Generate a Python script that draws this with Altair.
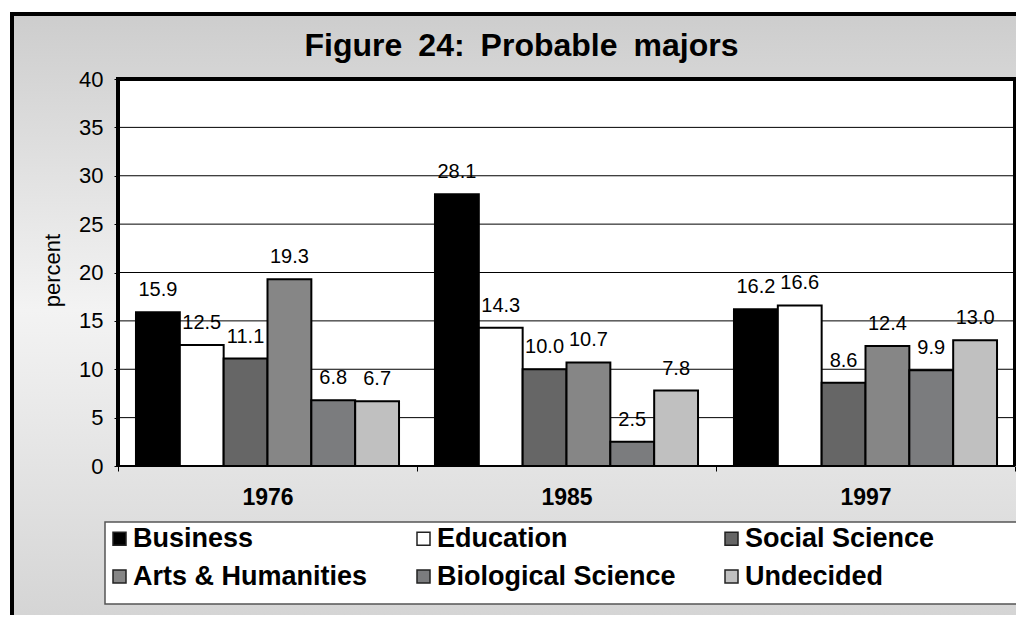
import altair as alt
import pandas as pd

majors = ["Business", "Education", "Social Science", "Arts & Humanities",
          "Biological Science", "Undecided"]
years = ["1976", "1985", "1997"]
v1976 = [15.9, 12.5, 11.1, 19.3, 6.8, 6.7]
v1985 = [28.1, 14.3, 10.0, 10.7, 2.5, 7.8]
v1997 = [16.2, 16.6, 8.6, 12.4, 9.9, 13.0]
colors = ["#000000", "#ffffff", "#666666", "#868686", "#7b7c7e", "#c0c0c0"]
y_ticks = [0, 5, 10, 15, 20, 25, 30, 35, 40]
grid_values = [5, 10, 15, 20, 25, 30, 35]

# legend lays entries out column by column (2 rows x 3 columns)
legend_order = ["Business", "Arts & Humanities", "Education",
                "Biological Science", "Social Science", "Undecided"]
color_of = dict(zip(majors, colors))
legend_colors = [color_of[m] for m in legend_order]

rows = []
for yr, vals in zip(years, [v1976, v1985, v1997]):
    for m, v in zip(majors, vals):
        rows.append({"year": yr, "major": m, "pct": v})
df = pd.DataFrame(rows)

FONT = "Liberation Sans"
W, H = 897, 387
one = pd.DataFrame({"a": [0]})

yscale = alt.Scale(domain=[0, 40], nice=False, zero=True)
xscale = alt.Scale(paddingInner=0, paddingOuter=0)
offscale = alt.Scale(paddingInner=0, paddingOuter=0.41)

yaxis = alt.Axis(values=y_ticks, labelFontSize=22, labelFont=FONT,
                 labelColor="black", labelPadding=11, tickSize=4,
                 tickColor="black", tickWidth=1, grid=False,
                 domain=False, zindex=1, title="percent",
                 titleFont=FONT, titleFontSize=22, titleFontWeight="normal",
                 titleColor="black", titleAngle=270, titleX=-66, titleY=191,
                 titleAlign="center", titleBaseline="middle")

gradient = alt.Gradient(
    gradient="linear",
    stops=[alt.GradientStop(color="#cdcdcd", offset=0),
           alt.GradientStop(color="#f3f3f3", offset=0.47),
           alt.GradientStop(color="#d2d2d2", offset=1)],
    x1=0, x2=0, y1=0, y2=1,
)

bg = alt.Chart(one).mark_rect(fill=gradient, stroke="black", strokeWidth=4).encode(
    x=alt.value(-106), x2=alt.value(922), y=alt.value(-65), y2=alt.value(565)
)
plotbg = alt.Chart(one).mark_rect(fill="white").encode(
    x=alt.value(0), x2=alt.value(W), y=alt.value(0), y2=alt.value(H)
)
legbox = alt.Chart(one).mark_rect(fill="white", stroke="#555555", strokeWidth=1.5).encode(
    x=alt.value(-13), x2=alt.value(899), y=alt.value(443), y2=alt.value(525)
)

grid = alt.Chart(pd.DataFrame({"v": grid_values})).mark_rule(color="black", strokeWidth=1).encode(
    y=alt.Y("v:Q", scale=yscale, axis=yaxis),
    x=alt.value(0), x2=alt.value(W),
)

bars = alt.Chart(df).mark_bar(stroke="black", strokeWidth=2).encode(
    x=alt.X("year:N", sort=years, scale=xscale, title=None,
            axis=alt.Axis(labelAngle=0, labelFontSize=23, labelFontWeight="bold",
                          labelFont=FONT, labelColor="black", labelPadding=15,
                          tickBand="extent", tickSize=5, tickColor="black",
                          tickWidth=1, domain=False, zindex=1)),
    xOffset=alt.XOffset("major:N", sort=majors, scale=offscale),
    y=alt.Y("pct:Q", scale=yscale, axis=yaxis),
    fill=alt.Fill("major:N",
                  scale=alt.Scale(domain=legend_order, range=legend_colors),
                  legend=alt.Legend(orient="none", legendX=-12, legendY=446,
                                    columns=3, title=None, symbolType="square",
                                    symbolSize=169, symbolStrokeColor="#222222",
                                    symbolStrokeWidth=1.5, labelFontSize=27,
                                    labelFontWeight="bold", labelFont=FONT,
                                    labelColor="black", labelOffset=0,
                                    columnPadding=42, rowPadding=10, padding=0,
                                    labelLimit=400)),
)

labels = alt.Chart(df).mark_text(fontSize=20, font=FONT, color="black", dy=-16,
                                 baseline="alphabetic", align="center").encode(
    x=alt.X("year:N", sort=years, scale=xscale),
    xOffset=alt.XOffset("major:N", sort=majors, scale=offscale),
    y=alt.Y("pct:Q", scale=yscale),
    text=alt.Text("pct:Q", format=".1f"),
)

frame_top = alt.Chart(one).mark_rule(color="black", strokeWidth=4).encode(
    x=alt.value(-2), x2=alt.value(W + 2), y=alt.value(0))
frame_left = alt.Chart(one).mark_rule(color="black", strokeWidth=4).encode(
    x=alt.value(0), y=alt.value(-2), y2=alt.value(H))
frame_right = alt.Chart(one).mark_rule(color="black", strokeWidth=4).encode(
    x=alt.value(W), y=alt.value(-2), y2=alt.value(H))
frame_bottom = alt.Chart(one).mark_rule(color="black", strokeWidth=2).encode(
    x=alt.value(0), x2=alt.value(W), y=alt.value(H))

title = alt.Chart(one).mark_text(text="Figure\u200224:\u2002Probable\u2002majors",
                                 fontSize=32, fontWeight="bold", font=FONT,
                                 color="black", align="center",
                                 baseline="alphabetic").encode(
    x=alt.value(403.5), y=alt.value(-23))

chart = alt.layer(bg, plotbg, legbox, grid, bars, labels,
                  frame_top, frame_left, frame_right, frame_bottom, title).properties(
    width=W, height=H,
    autosize=alt.AutoSizeParams(type="none"),
    padding={"left": 110, "top": 71, "right": 1, "bottom": 149},
    background="white",
).configure_view(stroke=None).configure(font=FONT)

chart.save("out.html", embed_options={"renderer": "svg", "actions": False})
